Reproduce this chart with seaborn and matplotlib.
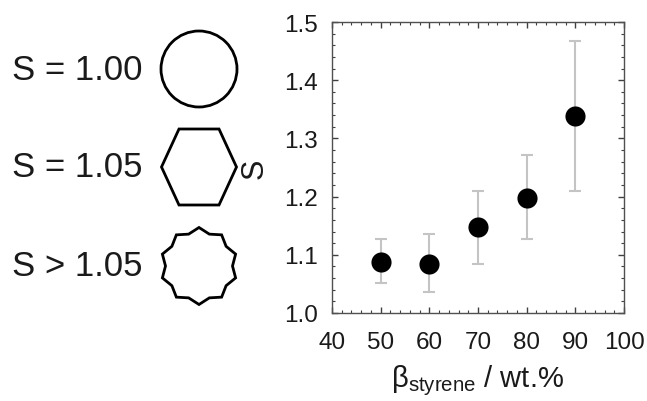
import numpy as np
import pandas as pd
import matplotlib
matplotlib.use("Agg")
import matplotlib.pyplot as plt
from matplotlib.patches import Circle, Polygon
from matplotlib.ticker import MultipleLocator
import seaborn as sns

# data
styrene = [50, 60, 70, 80, 90]
s_mean = [1.088, 1.084, 1.147, 1.198, 1.338]
s_upper = [1.128, 1.135, 1.209, 1.271, 1.467]
s_lower = [1.051, 1.036, 1.084, 1.127, 1.209]

shape_labels = ["S = 1.00", "S = 1.05", "S > 1.05"]

sns.set_theme(style="ticks")
plt.rcParams['font.family'] = ['Liberation Sans', 'DejaVu Sans']
plt.rcParams['mathtext.fontset'] = 'custom'
plt.rcParams['mathtext.rm'] = 'Liberation Sans'

df = pd.DataFrame({"styrene": styrene, "S": s_mean,
                   "hi": s_upper, "lo": s_lower})

W, H = 647, 402
fig = plt.figure(figsize=(W / 100, H / 100), dpi=100)

# main scatter plot
ax = fig.add_axes([332 / W, 1 - 314 / H, (624 - 332) / W, (314 - 23) / H])
yerr = np.array([df["S"] - df["lo"], df["hi"] - df["S"]])
ax.errorbar(df["styrene"], df["S"], yerr=yerr, fmt="none",
            ecolor="#c4c4c4", elinewidth=1.5, capsize=4.5, capthick=1.5, zorder=1)
sns.scatterplot(data=df, x="styrene", y="S", ax=ax, color="black",
                s=210, edgecolor="black", linewidth=0, zorder=2, legend=False)

ax.set_xlim(40, 100)
ax.set_ylim(1.0, 1.5)
ax.xaxis.set_major_locator(MultipleLocator(10))
ax.xaxis.set_minor_locator(MultipleLocator(2))
ax.yaxis.set_major_locator(MultipleLocator(0.1))
ax.yaxis.set_minor_locator(MultipleLocator(0.02))
ax.yaxis.set_major_formatter(matplotlib.ticker.FormatStrFormatter('%.1f'))
ax.tick_params(which="both", direction="in", top=True, right=True,
               colors="#404040", labelcolor="#1a1a1a", labelsize=17.5)
ax.tick_params(which="major", length=4, width=1)
ax.tick_params(which="minor", length=2.5, width=0.8)
ax.tick_params(axis="x", which="major", pad=13)
ax.tick_params(axis="y", which="major", pad=10)
for sp in ax.spines.values():
    sp.set_color("#505050")
    sp.set_linewidth(1)

ax.set_xlabel(r"β$_{\mathrm{styrene}}$ / wt.%", fontsize=21, color="#1a1a1a")
ax.set_ylabel("S", fontsize=22, color="#1a1a1a")
ax.xaxis.set_label_coords(0.5, -0.17)
ax.yaxis.set_label_coords(-0.212, 0.5)

# schematic shapes on the left, in pixel units
ax2 = fig.add_axes([0, 0, 260 / W, 1])
ax2.set_xlim(0, 260)
ax2.set_ylim(H, 0)
ax2.axis("off")

cx = 199
rows_y = [70, 168, 267]
r = 38
lw = 2.0

ax2.add_patch(Circle((cx, rows_y[0]), r, fill=False, ec="black", lw=lw))

hex_pts = [(37.5, 0), (20, 38), (-20, 38), (-37.5, 0), (-20, -38), (20, -38)]
ax2.add_patch(Polygon([(cx + px, rows_y[1] + py) for px, py in hex_pts],
                      closed=True, fill=False, ec="black", lw=lw, joinstyle="miter"))

n = 10
ang = np.linspace(0, 2 * np.pi, 2 * n, endpoint=False) - np.pi / 2
rad = np.where(np.arange(2 * n) % 2 == 0, 38.5, 33.5)
star = np.column_stack([cx + rad * np.cos(ang), rows_y[2] + rad * np.sin(ang)])
ax2.add_patch(Polygon(star, closed=True, fill=False, ec="black", lw=lw, joinstyle="miter"))

for lab, yy in zip(shape_labels, rows_y):
    ax2.text(143, yy, lab, ha="right", va="center", fontsize=25, color="#1a1a1a")

fig.savefig("out.png", dpi=100)
